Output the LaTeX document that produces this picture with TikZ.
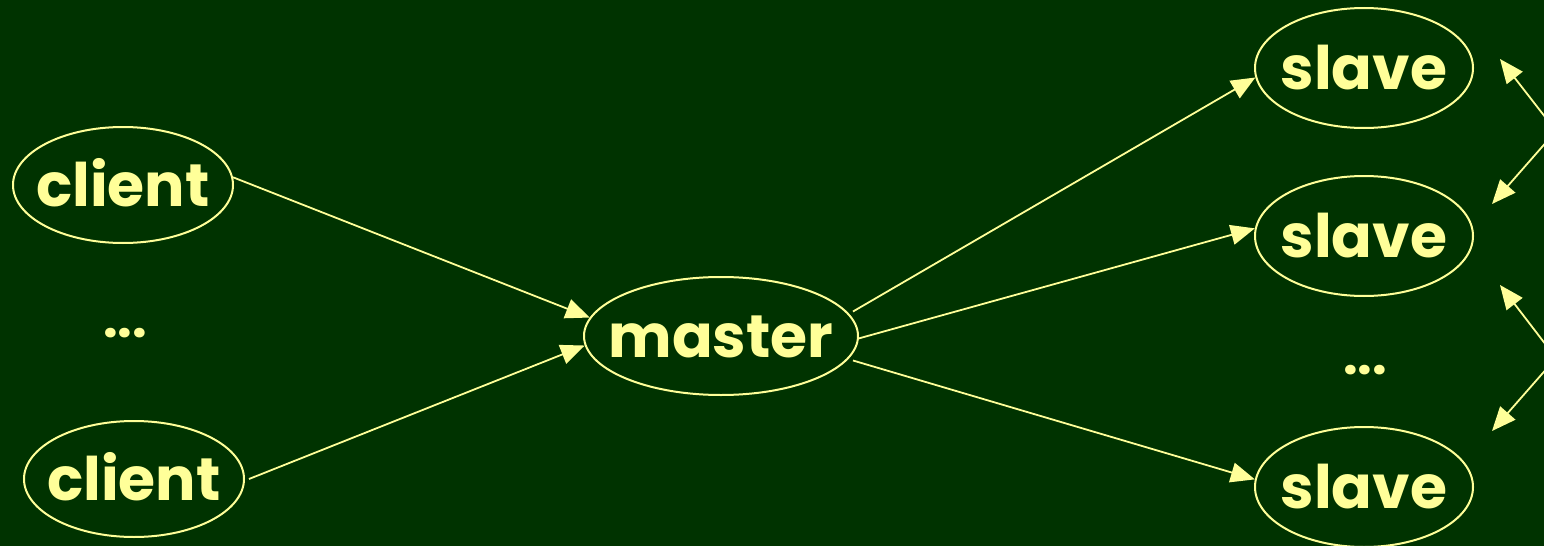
\documentclass[tikz,border=0pt]{standalone}
\usepackage{fontspec}
\setmainfont{Poppins}
\usetikzlibrary{arrows.meta,shapes.geometric}
\definecolor{bg}{RGB}{0,51,0}
\definecolor{fg}{RGB}{255,255,153}
\newcommand{\ctext}[1]{\makebox[0pt]{\raisebox{-0.36em}[0pt][0pt]{#1}}}
\tikzset{
  ell/.style={ellipse, draw=fg, line width=1pt, text=fg, inner sep=0pt,
    font=\fontsize{30}{30}\selectfont\bfseries},
  lbl/.style={text=fg, font=\fontsize{26}{26}\selectfont\bfseries},
  arr/.style={draw=fg, line width=0.9pt, -{Triangle[length=12pt,width=10pt]}}
}
\begin{document}
\begin{tikzpicture}[x=0.5pt,y=-0.5pt]
\useasboundingbox (0,0) rectangle (1544,546);
\fill[bg] (0,0) rectangle (1544,546);
\node[ell, minimum width=110pt, minimum height=58pt] (c1) at (123,185) {\ctext{client}};
\node[ell, minimum width=110pt, minimum height=58pt] (c2) at (134,479) {\ctext{client}};
\node[lbl] (d1) at (125,333) {...};
\node[ell, minimum width=137pt, minimum height=59pt] (m) at (721,336) {\ctext{master}};
\node[ell, minimum width=109pt, minimum height=60pt] (s1) at (1364,68) {\ctext{slave}};
\node[ell, minimum width=109pt, minimum height=60pt] (s2) at (1364,236) {\ctext{slave}};
\node[ell, minimum width=109pt, minimum height=60pt] (s3) at (1364,487) {\ctext{slave}};
\node[lbl] (d2) at (1365,370) {...};
\draw[arr] (c1.4) -- (m.172);
\draw[arr] ([xshift=2pt]c2.0) -- (m.184);
\draw[arr] ([xshift=3pt]m.11) -- (s1.185);
\draw[arr] (m.359) -- (s2.176);
\draw[arr] ([xshift=3pt]m.349) -- (s3.176);
\coordinate (r1) at (1556,131);
\coordinate (r2) at (1556,358);
\coordinate (t1) at (1500,59);
\coordinate (t2) at (1492,204);
\coordinate (t3) at (1500,285);
\coordinate (t4) at (1492,431);
\draw[arr] (r1) -- (t1);
\draw[arr] (r1) -- (t2);
\draw[arr] (r2) -- (t3);
\draw[arr] (r2) -- (t4);
\end{tikzpicture}
\end{document}
